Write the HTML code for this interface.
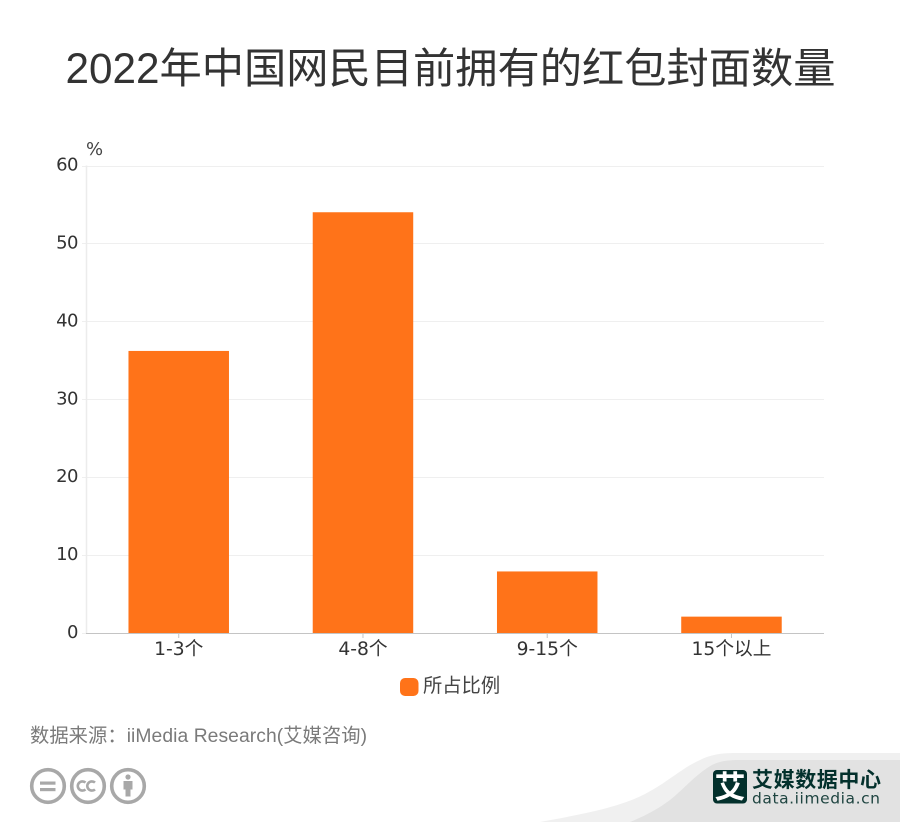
<!DOCTYPE html>
<html lang="zh">
<head>
<meta charset="utf-8">
<title>2022年中国网民目前拥有的红包封面数量</title>
<style>
html,body{margin:0;padding:0;background:#fff;width:900px;height:822px;overflow:hidden}
svg{display:block}
text{font-family:"DejaVu Sans","Noto Sans CJK SC",sans-serif}
.cjk{font-family:"Liberation Sans","Noto Sans CJK SC",sans-serif}
</style>
</head>
<body>
<svg id="chart" width="900" height="822" viewBox="0 0 900 822" xmlns="http://www.w3.org/2000/svg">
  <text class="cjk" x="450.5" y="83" font-size="42.25" fill="#333" text-anchor="middle" font-weight="400">2022年中国网民目前拥有的红包封面数量</text>

  <g id="grid"></g>
  <g id="bars"></g>
  <g id="axes"></g>

  <text x="86" y="155" font-size="18" fill="#444">%</text>

  <g>
    <rect x="400" y="678" width="18.5" height="18" rx="5" fill="#ff7319"></rect>
    <text x="423" y="692" font-size="19.3" fill="#444" id="legend-text">所占比例</text>
  </g>

  <text class="cjk" x="30" y="742" font-size="19.3" fill="#7a7a7a" textLength="337" lengthAdjust="spacing">数据来源<tspan style="font-family:'Noto Sans CJK TC',sans-serif">：</tspan>iiMedia Research(艾媒咨询)</text>

  <g fill="none" stroke="#a8a8a8" stroke-width="3.6">
    <g>
      <circle cx="48" cy="786" r="16.3"></circle>
      <rect x="40" y="781.5" width="15.5" height="3.2" fill="#a8a8a8" stroke="none"></rect>
      <rect x="40" y="788" width="15.5" height="3.2" fill="#a8a8a8" stroke="none"></rect>
    </g>
    <g>
      <circle cx="88" cy="786" r="16.3"></circle>
      <path d="M85.5 782.6a4.6 4.6 0 1 0 0 6.8M95 782.6a4.6 4.6 0 1 0 0 6.8" stroke-width="2.6"></path>
    </g>
    <g>
      <circle cx="128" cy="786" r="16.3"></circle>
      <circle cx="128" cy="777" r="2.6" fill="#a8a8a8" stroke="none"></circle>
      <path d="M123.5 781h9v8.5h-2v7h-5v-7h-2z" fill="#a8a8a8" stroke="none"></path>
    </g>
  </g>

  <g>
    <path d="M540 822C590 813 622 806 645 794C668 782 682 768 700 760C710 755 720 753 735 753H900V822Z" fill="#f0f0f0"></path>
    <path d="M630 822C645 816 658 809 670 800C685 788 695 775 712 765C720 761 728 760 740 760H900V822Z" fill="#e2e2e2"></path>
  </g>

  <g>
    <rect x="713" y="770" width="34" height="33.5" rx="4" fill="#03302c"></rect>
    <text class="cjk" x="730" y="798" font-size="31" font-weight="700" fill="#fff" text-anchor="middle">艾</text>
    <text class="cjk" x="752" y="787" font-size="21" font-weight="700" fill="#03302c" textLength="129" lengthAdjust="spacing">艾媒数据中心</text>
    <text x="752" y="803.5" font-size="15.5" fill="#1e4440" textLength="128" lengthAdjust="spacing">data.iimedia.cn</text>
  </g>
</svg>
<script>
var categories = ['1-3个', '4-8个', '9-15个', '15个以上'];
var seriesValues = [36.2, 54, 7.9, 2.1];
var tickLabels = [0, 10, 20, 30, 40, 50, 60];

var NS = 'http://www.w3.org/2000/svg';
var plotLeft = 87, plotRight = 824, plotTop = 165.5, plotBottom = 633, axisMax = 60;
var barWidth = 100.5;

function yScale(v) { return plotBottom - (v / axisMax) * (plotBottom - plotTop); }
function xBand(i) { return plotLeft - 0.4 + (i + 0.5) * (plotRight - plotLeft) / categories.length; }
function make(tag, attrs, parent) {
  var el = document.createElementNS(NS, tag);
  for (var k in attrs) el.setAttribute(k, attrs[k]);
  parent.appendChild(el);
  return el;
}

var grid = document.getElementById('grid');
var bars = document.getElementById('bars');
var axes = document.getElementById('axes');

tickLabels.forEach(function (t) {
  var y = Math.round(yScale(t)) + 0.5;
  if (t !== 0) {
    var line = make('line', {x1: plotLeft, x2: plotRight, y1: y, y2: y, stroke: '#efefef', 'stroke-width': 1}, grid);
    
    
  }
  var tick = make('line', {x1: plotLeft - 5, x2: plotLeft, y1: y, y2: y, stroke: '#efefef', 'stroke-width': 1}, axes);
  
  
  var label = make('text', {x: 78, y: yScale(t) + 5, 'font-size': 18, 'letter-spacing': '-0.5', fill: '#333', 'text-anchor': 'end'}, axes);
  
  
  label.textContent = t;
});

var yAxis = make('line', {x1: plotLeft - 0.5, x2: plotLeft - 0.5, y1: plotTop, y2: plotBottom, stroke: '#ececec', 'stroke-width': 1.5}, axes);



categories.forEach(function (c, i) {
  var cx = xBand(i);
  var top = yScale(seriesValues[i]);
  var bar = make('rect', {x: cx - barWidth / 2, y: top, width: barWidth, height: plotBottom - top, fill: '#ff7319'}, bars);
  
  
  var tick = make('line', {x1: cx, x2: cx, y1: plotBottom, y2: plotBottom + 5, stroke: '#c4c4c4', 'stroke-width': 1}, axes);
  
  
  var label = make('text', {x: cx, y: 655, 'font-size': 18.7, fill: '#333', 'text-anchor': 'middle'}, axes);
  
  
  label.textContent = c;
});

var xAxis = make('line', {x1: plotLeft - 1, x2: plotRight, y1: plotBottom + 0.5, y2: plotBottom + 0.5, stroke: '#c4c4c4', 'stroke-width': 1}, axes);


</script>
</body>
</html>
